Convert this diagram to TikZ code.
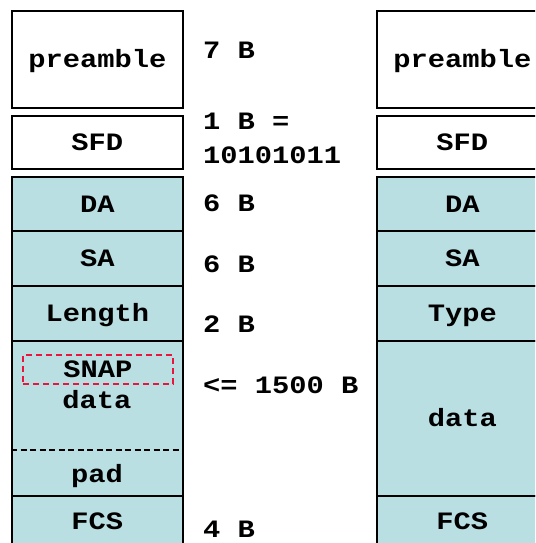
\documentclass[tikz,border=0pt]{standalone}
\usepackage{fontspec}
\setmonofont{Liberation Mono}[FakeStretch=1.15]
\definecolor{fieldblue}{RGB}{186,223,227}
\definecolor{snapred}{RGB}{232,22,62}
\begin{document}
\begin{tikzpicture}[x=1pt,y=-1pt,
  font=\ttfamily\bfseries\fontsize{25}{30}\selectfont,
  fld/.style={draw=black, line width=1.7pt, minimum width=171pt, inner sep=0pt,
    anchor=north west, text height=16.5pt, text depth=0pt},
  wbox/.style={fld, fill=white},
  bbox/.style={fld, fill=fieldblue},
  txt/.style={inner sep=0pt, text height=16.5pt, text depth=0pt},
  side/.style={inner sep=0pt, anchor=base west}]
\clip (0,0) rectangle (535,543);
\fill[white] (0,0) rectangle (535,543);
% left frame (802.3)
\node[wbox, minimum height=97pt] (pre1) at (11,10) {preamble};
\node[wbox, minimum height=53pt] (sfd1) at (11,115) {SFD};
\node[bbox, minimum height=54pt] (da1) at (11,176) {DA};
\node[bbox, minimum height=55pt] (sa1) at (11,230) {SA};
\node[bbox, minimum height=55pt] (len1) at (11,285) {Length};
\node[bbox, minimum height=155pt] (data1) at (11,340) {};
\node[bbox, minimum height=51pt] (fcs1) at (11,495) {FCS};
\node[txt, draw=snapred, dashed, dash pattern=on 6pt off 4pt, line width=1.5pt,
  minimum width=150pt, minimum height=29pt] (snap) at (98,369.5) {SNAP};
\node[txt] (data1t) at (97,400) {data};
\coordinate (padL) at (11,450);
\coordinate (padR) at (182,450);
\draw[line width=1.4pt, dash pattern=on 6pt off 3.5pt] (padL) -- (padR);
\node[txt] (pad1) at (97,474) {pad};
% sizes
\node[side] (s7) at (203,59) {7 B};
\node[side] (s1) at (203,129) {1 B =};
\node[side] (s1b) at (203,163) {10101011};
\node[side] (s6a) at (203,211) {6 B};
\node[side] (s6b) at (203,272) {6 B};
\node[side] (s2) at (203,332) {2 B};
\node[side] (s1500) at (203,393) {<= 1500 B};
\node[side] (s4) at (203,537) {4 B};
% right frame (Ethernet II)
\node[wbox, minimum height=97pt] (pre2) at (376,10) {preamble};
\node[wbox, minimum height=53pt] (sfd2) at (376,115) {SFD};
\node[bbox, minimum height=54pt] (da2) at (376,176) {DA};
\node[bbox, minimum height=55pt] (sa2) at (376,230) {SA};
\node[bbox, minimum height=55pt] (type2) at (376,285) {Type};
\node[bbox, minimum height=155pt] (data2) at (376,340) {data};
\node[bbox, minimum height=51pt] (fcs2) at (376,495) {FCS};
\end{tikzpicture}
\end{document}
